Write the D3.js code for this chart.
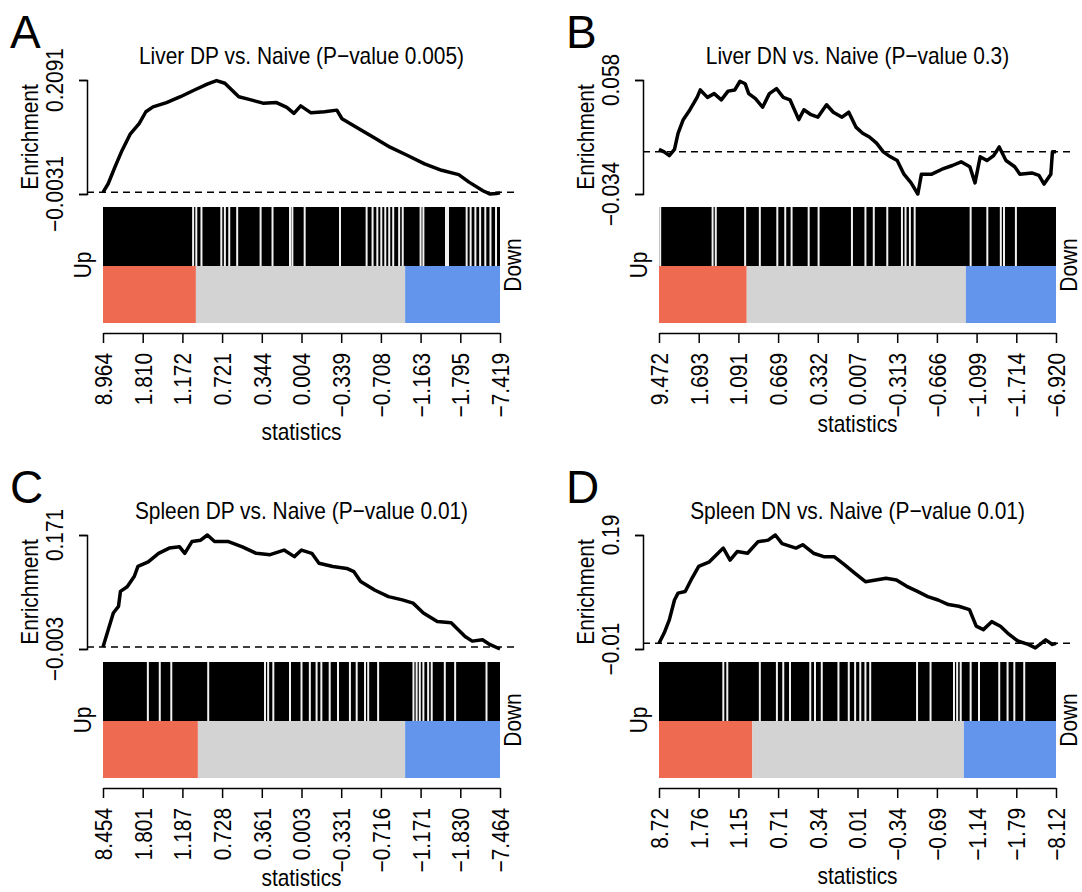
<!DOCTYPE html>
<html><head><meta charset="utf-8">
<script src="https://cdn.jsdelivr.net/npm/d3@7"></script>
<style>body{margin:0;background:#fff} svg{display:block}</style>
</head><body>
<svg id="chart" width="1082" height="892"></svg>
<script>
// ---------------- DATA ----------------
const N = 1000;                       // genes ranked by statistic (rank scale)
const tickRanks = [0,100,200,300,400,500,600,700,800,900,1000];

const letters = ["A","B","C","D"];
const titles = [
  "Liver DP vs. Naive (P\u2212value 0.005)",
  "Liver DN vs. Naive (P\u2212value 0.3)",
  "Spleen DP vs. Naive (P\u2212value 0.01)",
  "Spleen DN vs. Naive (P\u2212value 0.01)"
];

const xTickLabelsA = ["8.964","1.810","1.172","0.721","0.344","0.004","\u22120.339","\u22120.708","\u22121.163","\u22121.795","\u22127.419"];
const xTickLabelsB = ["9.472","1.693","1.091","0.669","0.332","0.007","\u22120.313","\u22120.666","\u22121.099","\u22121.714","\u22126.920"];
const xTickLabelsC = ["8.454","1.801","1.187","0.728","0.361","0.003","\u22120.331","\u22120.716","\u22121.171","\u22121.830","\u22127.464"];
const xTickLabelsD = ["8.72","1.76","1.15","0.71","0.34","0.01","\u22120.34","\u22120.69","\u22121.14","\u22121.79","\u22128.12"];

const yRangeA = [-0.0031, 0.2091];
const yRangeB = [-0.034, 0.058];
const yRangeC = [-0.003, 0.171];
const yRangeD = [-0.01, 0.19];
const yTickLabelsA = ["\u22120.0031","0.2091"];
const yTickLabelsB = ["\u22120.034","0.058"];
const yTickLabelsC = ["\u22120.003","0.171"];
const yTickLabelsD = ["\u22120.01","0.19"];

// running enrichment score (rank, value)
const rankA = [0,13,30,48,69,91,108,126,160,195,229,264,286,307,342,368,403,437,463,481,498,524,558,589,602,636,680,723,766,810,853,896,922,957,974,991,1000];
const enrA  = [0,0.016,0.047,0.078,0.109,0.128,0.150,0.159,0.167,0.178,0.190,0.202,0.208,0.203,0.178,0.173,0.166,0.167,0.158,0.147,0.161,0.148,0.150,0.153,0.137,0.122,0.103,0.084,0.069,0.053,0.041,0.033,0.019,0.003,-0.003,-0.002,-0.001];

const rankB = [0,13,26,39,48,61,78,96,104,122,139,157,174,191,204,217,226,243,261,278,296,313,330,352,365,383,400,422,439,461,478,496,513,530,548,565,583,600,617,635,652,661,687,713,739,761,783,796,809,826,843,857,874,896,909,939,957,970,987,991,1000];
const enrB  = [0.002,0.000,-0.003,0.002,0.015,0.026,0.034,0.044,0.050,0.044,0.047,0.042,0.049,0.050,0.057,0.055,0.047,0.043,0.036,0.047,0.051,0.044,0.042,0.026,0.034,0.030,0.028,0.038,0.032,0.028,0.032,0.020,0.015,0.012,0.007,0.000,-0.004,-0.007,-0.018,-0.025,-0.034,-0.018,-0.018,-0.014,-0.011,-0.008,-0.012,-0.025,-0.004,-0.007,-0.003,0.004,-0.007,-0.012,-0.018,-0.017,-0.019,-0.026,-0.018,0.000,0.000];

const rankC = [0,13,26,39,44,61,79,88,114,140,167,193,206,224,246,263,281,316,351,386,421,456,482,500,526,544,579,614,632,649,684,719,754,781,807,842,877,912,930,956,974,1000];
const enrC  = [0,0.026,0.052,0.062,0.085,0.092,0.108,0.123,0.130,0.143,0.151,0.153,0.143,0.161,0.163,0.171,0.161,0.161,0.153,0.143,0.141,0.148,0.138,0.148,0.143,0.128,0.123,0.120,0.115,0.100,0.087,0.077,0.072,0.067,0.052,0.039,0.037,0.016,0.009,0.011,0.004,-0.003];

const rankD = [0,13,26,39,48,66,83,100,127,153,162,179,197,223,249,275,293,310,345,362,389,415,441,467,493,520,546,572,598,624,651,677,703,729,755,782,799,817,838,860,878,904,930,948,965,974,991,1000];
const enrD  = [0,0.018,0.041,0.076,0.088,0.091,0.114,0.135,0.143,0.161,0.167,0.146,0.161,0.158,0.178,0.181,0.190,0.175,0.167,0.173,0.158,0.152,0.152,0.138,0.123,0.108,0.111,0.114,0.111,0.100,0.091,0.082,0.076,0.068,0.065,0.059,0.030,0.024,0.038,0.030,0.018,0.004,-0.002,-0.008,0.001,0.006,-0.002,0.000];

// ranks without gene-set members (white gaps in the barcode)
const gapsA = [227,235,248,298,307,318,338,397,427,471,477,508,597,664,679,691,701,711,721,731,746,755,800,807,864,869,916,926,938,950,963,976,990];
const gapsB = [3,135,143,217,254,298,318,334,377,402,486,520,541,575,612,621,632,644,785,827,861,869,899];
const gapsC = [113,143,172,265,408,416,429,471,500,521,538,550,571,592,622,639,660,668,693,782,790,798,807,819,828,861,887,966];
const gapsD = [162,172,254,297,313,330,381,393,410,452,478,494,507,520,532,650,684,743,751,760,785,806,857,878,895,920];

// rank where the "up" (red) band ends and the "down" (blue) band starts
const bandA = [234, 761];
const bandB = [221, 773];
const bandC = [239, 761];
const bandD = [235, 768];

// ---------------- LAYOUT ----------------
const L = {
  x0: 103, x1: 500, pad: 16,
  yTop: 80, yBot: 194,
  barTop: 207, barMid: 266, barBot: 323,
  axisY: 333, tickLen: 10, labGap: 20,
  yTickLabX: -24, yLabX: -49,
  colDx: 556, rowDy: 455
};
const FONT = "'Liberation Sans',Arial,sans-serif";
const FS = 24;
const SX = 0.87;   // horizontal compression of the R-style narrow text

const panels = [
  {letter:letters[0], title:titles[0], xt:xTickLabelsA, yr:yRangeA, yl:yTickLabelsA, rk:rankA, en:enrA, gaps:gapsA, band:bandA, col:0, row:0, xlabY:440},
  {letter:letters[1], title:titles[1], xt:xTickLabelsB, yr:yRangeB, yl:yTickLabelsB, rk:rankB, en:enrB, gaps:gapsB, band:bandB, col:1, row:0, xlabY:432},
  {letter:letters[2], title:titles[2], xt:xTickLabelsC, yr:yRangeC, yl:yTickLabelsC, rk:rankC, en:enrC, gaps:gapsC, band:bandC, col:0, row:1, xlabY:431},
  {letter:letters[3], title:titles[3], xt:xTickLabelsD, yr:yRangeD, yl:yTickLabelsD, rk:rankD, en:enrD, gaps:gapsD, band:bandD, col:1, row:1, xlabY:429}
];

const svg = d3.select("#chart");

function label(g, x, y, rot, anchor, str) {
  return g.append("text")
    .attr("transform", `translate(${x},${y}) rotate(${rot}) scale(${SX},1)`)
    .attr("text-anchor", anchor).attr("font-family", FONT).attr("font-size", FS)
    .attr("fill", "#000").text(str);
}

panels.forEach(p => {
  const g = svg.append("g").attr("transform", `translate(${p.col*L.colDx},${p.row*L.rowDy})`);
  const x = d3.scaleLinear().domain([0, N]).range([L.x0, L.x1]);
  const y = d3.scaleLinear().domain(p.yr).range([L.yBot, L.yTop]);
  const ax = L.x0 - L.pad;

  // panel letter
  g.append("text").attr("x", 10).attr("y", 48)
    .attr("font-family", "'Liberation Sans',Arial,sans-serif").attr("font-size", 46)
    .text(p.letter);

  // title
  label(g, (L.x0 + L.x1)/2, 64, 0, "middle", p.title);

  // zero line
  g.append("line").attr("x1", ax).attr("x2", L.x1 + L.pad)
    .attr("y1", y(0)).attr("y2", y(0))
    .attr("stroke", "#000").attr("stroke-width", 1.5).attr("stroke-dasharray", "7,5");

  // enrichment curve
  g.append("path").datum(p.en)
    .attr("d", d3.line().x((d, i) => x(p.rk[i])).y(d => y(d)))
    .attr("fill", "none").attr("stroke", "#000").attr("stroke-width", 3.5)
    .attr("stroke-linejoin", "round");

  // y axis (bracket)
  const yAxis = d3.axisLeft(y).tickValues(p.yr).tickSizeInner(8).tickSizeOuter(8).tickFormat(() => "");
  const yg = g.append("g").attr("transform", `translate(${ax},0)`).call(yAxis);
  yg.selectAll("path,line").attr("stroke", "#000").attr("stroke-width", 1.5);
  p.yr.forEach((v, i) => label(g, ax + L.yTickLabX, y(v), -90, "middle", p.yl[i]));
  label(g, ax + L.yLabX, (L.yTop + L.yBot)/2, -90, "middle", "Enrichment");

  // barcode
  g.append("rect").attr("x", x(0)).attr("y", L.barTop).attr("width", x(N) - x(0))
    .attr("height", L.barMid - L.barTop).attr("fill", "#000");
  g.selectAll("line.gap").data(p.gaps).join("line").attr("class", "gap")
    .attr("x1", d => x(d)).attr("x2", d => x(d))
    .attr("y1", L.barTop).attr("y2", L.barMid)
    .attr("stroke", "#f2f2f2").attr("stroke-width", 2);

  // coloured band
  const segs = [[0, p.band[0], "#EE6A50"], [p.band[0], p.band[1], "#D3D3D3"], [p.band[1], N, "#6495ED"]];
  g.selectAll("rect.seg").data(segs).join("rect").attr("class", "seg")
    .attr("x", d => x(d[0])).attr("width", d => x(d[1]) - x(d[0]))
    .attr("y", L.barMid).attr("height", L.barBot - L.barMid)
    .attr("fill", d => d[2]);

  label(g, L.x0 - 12, (L.barTop + L.barBot)/2, -90, "middle", "Up");
  label(g, L.x1 + 21, (L.barTop + L.barBot)/2, -90, "middle", "Down");

  // x axis
  const xAxis = d3.axisBottom(x).tickValues(tickRanks).tickSizeInner(L.tickLen).tickSizeOuter(0)
    .tickFormat((d, i) => p.xt[i]);
  const xg = g.append("g").attr("transform", `translate(0,${L.axisY})`).call(xAxis);
  xg.selectAll("path,line").attr("stroke", "#000").attr("stroke-width", 1.5);
  xg.selectAll("text")
    .attr("transform", `rotate(-90) translate(${-L.labGap},0) scale(${SX},1)`)
    .attr("text-anchor", "end").attr("x", 0).attr("y", 0).attr("dy", "0.35em")
    .attr("font-family", FONT).attr("font-size", FS).attr("fill", "#000");

  label(g, (L.x0 + L.x1)/2, p.xlabY, 0, "middle", "statistics");
});
</script>
</body></html>
